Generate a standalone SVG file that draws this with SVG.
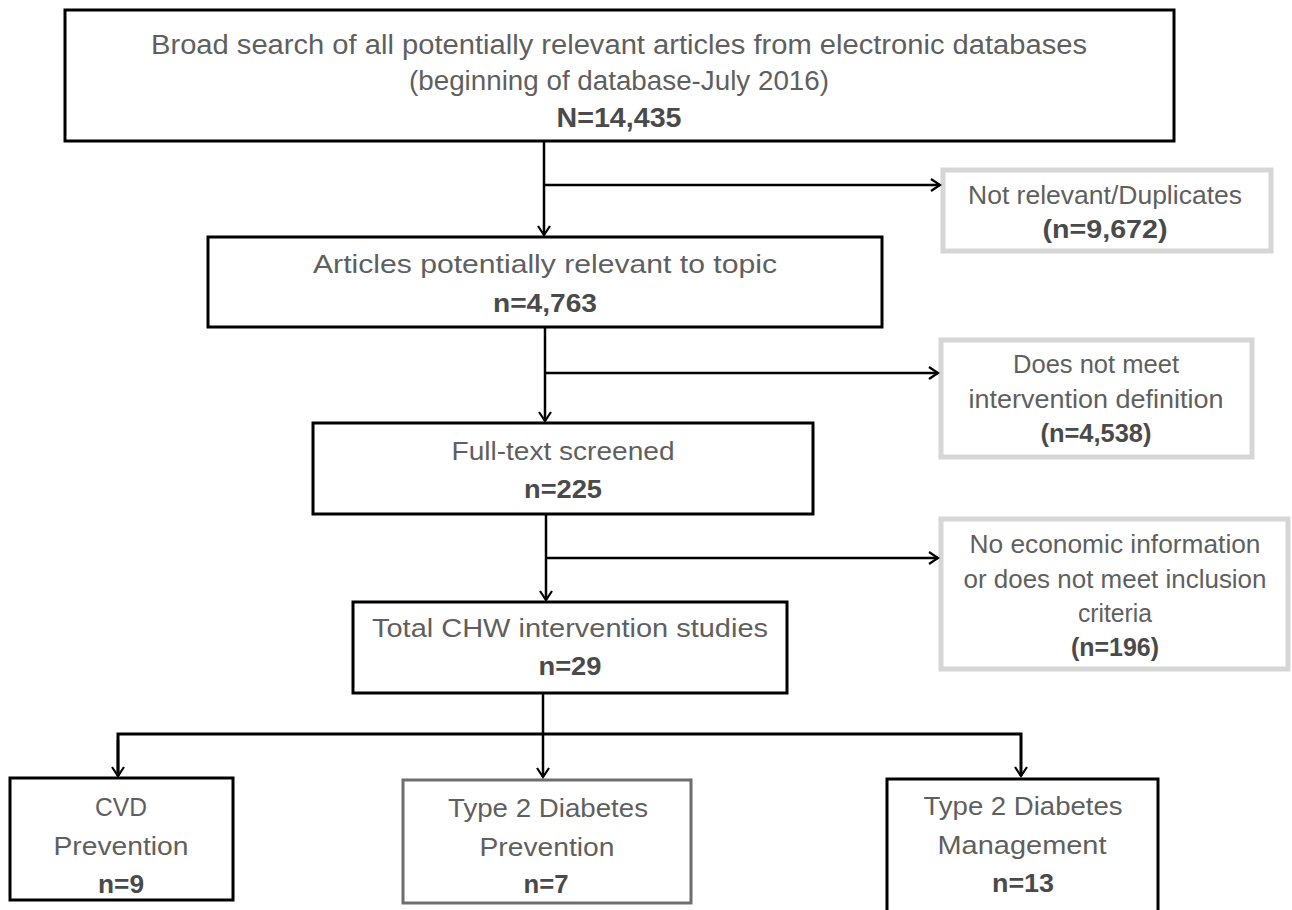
<svg xmlns="http://www.w3.org/2000/svg" width="1292" height="910" viewBox="0 0 1292 910">
<defs>
<marker id="arr" markerWidth="14" markerHeight="14" refX="11" refY="7" orient="auto" markerUnits="userSpaceOnUse">
<path d="M2,1 L11,7 L2,13" fill="none" stroke="#000" stroke-width="2.2"/>
</marker>
</defs>
<style>
.main{fill:#fff;stroke:#000;stroke-width:3}
.side{fill:#fff;stroke:#d6d6d6;stroke-width:5}
.mid{fill:#fff;stroke:#6e6e6e;stroke-width:3}
text{font-family:"Liberation Sans",Arial,sans-serif;font-size:26px;fill:#5f5f5f;text-anchor:middle}
.t{font-size:27px}
.b{font-weight:bold;fill:#4a4a4a}
.ln{fill:none;stroke:#000;stroke-width:2.5}
</style>
<rect width="1292" height="910" fill="#fff"/>
<g id="n1">
<rect class="main" x="65" y="10" width="1109" height="131"/>
<text class="t" x="619" y="54" textLength="936" lengthAdjust="spacingAndGlyphs">Broad search of all potentially relevant articles from electronic databases</text>
<text class="t" x="619" y="90" textLength="420" lengthAdjust="spacingAndGlyphs">(beginning of database-July 2016)</text>
<text class="t b" x="619" y="127" textLength="125" lengthAdjust="spacingAndGlyphs">N=14,435</text>
</g>
<g id="s1">
<rect class="side" x="943" y="170" width="328" height="81"/>
<text x="1105" y="204" textLength="274" lengthAdjust="spacingAndGlyphs">Not relevant/Duplicates</text>
<text class="b" x="1105" y="238" textLength="125" lengthAdjust="spacingAndGlyphs">(n=9,672)</text>
</g>
<g id="n2">
<rect class="main" x="208" y="237" width="674" height="90"/>
<text x="545" y="273" textLength="464" lengthAdjust="spacingAndGlyphs">Articles potentially relevant to topic</text>
<text class="b" x="545" y="312" textLength="104" lengthAdjust="spacingAndGlyphs">n=4,763</text>
</g>
<g id="s2">
<rect class="side" x="941" y="340" width="311" height="117"/>
<text x="1096" y="373" textLength="166" lengthAdjust="spacingAndGlyphs">Does not meet</text>
<text x="1096" y="408" textLength="255" lengthAdjust="spacingAndGlyphs">intervention definition</text>
<text class="b" x="1096" y="442" textLength="111" lengthAdjust="spacingAndGlyphs">(n=4,538)</text>
</g>
<g id="n3">
<rect class="main" x="313" y="423" width="500" height="91"/>
<text x="563" y="460" textLength="223" lengthAdjust="spacingAndGlyphs">Full-text screened</text>
<text class="b" x="563" y="498" textLength="78" lengthAdjust="spacingAndGlyphs">n=225</text>
</g>
<g id="s3">
<rect class="side" x="941" y="519" width="347" height="150"/>
<text x="1115" y="553" textLength="291" lengthAdjust="spacingAndGlyphs">No economic information</text>
<text x="1115" y="588" textLength="303" lengthAdjust="spacingAndGlyphs">or does not meet inclusion</text>
<text x="1115" y="622" textLength="74" lengthAdjust="spacingAndGlyphs">criteria</text>
<text class="b" x="1115" y="656" textLength="88" lengthAdjust="spacingAndGlyphs">(n=196)</text>
</g>
<g id="n4">
<rect class="main" x="353" y="602" width="434" height="91"/>
<text x="570" y="637" textLength="396" lengthAdjust="spacingAndGlyphs">Total CHW intervention studies</text>
<text class="b" x="570" y="675" textLength="63" lengthAdjust="spacingAndGlyphs">n=29</text>
</g>
<g id="n5">
<rect class="main" x="10" y="778" width="223" height="122"/>
<text x="121" y="816" textLength="52" lengthAdjust="spacingAndGlyphs">CVD</text>
<text x="121" y="855" textLength="135" lengthAdjust="spacingAndGlyphs">Prevention</text>
<text class="b" x="121" y="893" textLength="46" lengthAdjust="spacingAndGlyphs">n=9</text>
</g>
<g id="n6">
<rect class="mid" x="403" y="780" width="288" height="123"/>
<text x="548" y="817" textLength="200" lengthAdjust="spacingAndGlyphs">Type 2 Diabetes</text>
<text x="547" y="856" textLength="135" lengthAdjust="spacingAndGlyphs">Prevention</text>
<text class="b" x="546" y="893" textLength="45" lengthAdjust="spacingAndGlyphs">n=7</text>
</g>
<g id="n7">
<rect class="main" x="887" y="779" width="271" height="140"/>
<text x="1023" y="815" textLength="199" lengthAdjust="spacingAndGlyphs">Type 2 Diabetes</text>
<text x="1022" y="854" textLength="169" lengthAdjust="spacingAndGlyphs">Management</text>
<text class="b" x="1023" y="892" textLength="62" lengthAdjust="spacingAndGlyphs">n=13</text>
</g>
<g id="connectors">
<path class="ln" d="M544,141 V235" marker-end="url(#arr)"/>
<path class="ln" d="M544,185 H940" marker-end="url(#arr)"/>
<path class="ln" d="M545,327 V421" marker-end="url(#arr)"/>
<path class="ln" d="M545,373 H938" marker-end="url(#arr)"/>
<path class="ln" d="M546,514 V600" marker-end="url(#arr)"/>
<path class="ln" d="M546,558 H938" marker-end="url(#arr)"/>
<path class="ln" d="M543,693 V777" marker-end="url(#arr)"/>
<path class="ln" d="M118,776 V734 H1021 V776" marker-end="url(#arr)" style="stroke-width:3"/>
<path class="ln" d="M118,740 V776" marker-end="url(#arr)"/>
</g>
</svg>
